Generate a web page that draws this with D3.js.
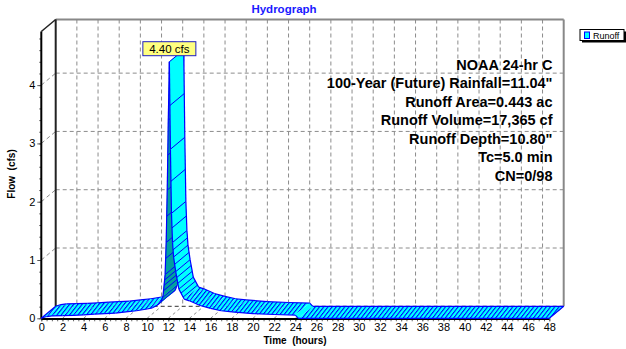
<!DOCTYPE html>
<html><head><meta charset="utf-8">
<script src="https://cdn.jsdelivr.net/npm/d3@7"></script>
<style>
html,body{margin:0;padding:0;background:#fff;}
svg{display:block;font-family:"Liberation Sans",Arial,sans-serif;}
</style></head>
<body><svg id="c" width="626" height="349"></svg>
<script>
// ---- data ----
const hours = [0, 0.5, 1, 2, 3, 4, 5, 6, 7, 8, 9, 10, 10.5, 11, 11.3, 11.5, 11.7, 11.8, 11.9, 12.0, 12.1, 12.2, 12.3, 12.4, 12.5, 12.7, 13.0, 13.5, 14, 15, 16, 17, 18, 20, 22, 24, 24.3, 48];
const flow  = [0, 0.03, 0.04, 0.045, 0.05, 0.06, 0.07, 0.08, 0.09, 0.11, 0.13, 0.16, 0.18, 0.23, 0.28, 0.38, 0.75, 1.3, 2.2, 3.4, 4.40, 2.9, 1.8, 1.3, 1.05, 0.8, 0.5, 0.33, 0.3, 0.22, 0.17, 0.13, 0.11, 0.08, 0.065, 0.055, 0.0, 0.0];
const yTicks = [0, 1, 2, 3, 4];
const xTicks = d3.range(0, 49, 2);
const peakLabel = "4.40 cfs";
const seriesName = "Runoff";
const infoLines = ["NOAA 24-hr C", "100-Year (Future) Rainfall=11.04\"", "Runoff Area=0.443 ac", "Runoff Volume=17,365 cf", "Runoff Depth=10.80\"", "Tc=5.0 min", "CN=0/98"];

// ---- layout ----
const svg = d3.select("#c");
const x = d3.scaleLinear().domain([0, 48]).range([41.3, 549.3]);
const y = d3.scaleLinear().domain([0, 4.92]).range([318.3, 31.5]);
const DX = 14.4, DY = -12;
const gridCol = "#8c8c8c";

// hatch pattern
const defs = svg.append("defs");
const pat = defs.append("pattern").attr("id", "hatch").attr("patternUnits", "userSpaceOnUse")
  .attr("width", 4.2).attr("height", 4.2).attr("patternTransform", "skewX(-38)");
pat.append("rect").attr("width", 4.2).attr("height", 4.2).attr("fill", "#00ffff");
pat.append("rect").attr("width", 1.3).attr("height", 4.2).attr("fill", "#0000ff");

const bx0 = x(0) + DX, bx1 = x(48) + DX, by0 = y(0) + DY, by1 = y(4.92) + DY;

// back plane grid
const g = svg.append("g");
g.selectAll(".hg").data(yTicks.filter(d => d > 0)).enter().append("line")
  .attr("x1", bx0).attr("x2", bx1).attr("y1", d => y(d) + DY).attr("y2", d => y(d) + DY)
  .attr("stroke", gridCol).attr("stroke-dasharray", "4,3");
g.selectAll(".vg").data(xTicks.filter(d => d > 0 && d < 48)).enter().append("line")
  .attr("x1", d => x(d) + DX).attr("x2", d => x(d) + DX).attr("y1", by1).attr("y2", by0)
  .attr("stroke", gridCol).attr("stroke-dasharray", "4,3");
// left wall diagonals
g.selectAll(".wl").data(yTicks.filter(d => d > 0)).enter().append("line")
  .attr("x1", x(0)).attr("x2", x(0) + DX).attr("y1", d => y(d)).attr("y2", d => y(d) + DY)
  .attr("stroke", gridCol).attr("stroke-dasharray", "4,3");
// floor diagonals
g.selectAll(".fl").data(xTicks.filter(d => d > 0)).enter().append("line")
  .attr("x1", d => x(d)).attr("x2", d => x(d) + DX).attr("y1", y(0)).attr("y2", y(0) + DY)
  .attr("stroke", gridCol).attr("stroke-dasharray", "3,3");
// back floor edge
g.append("line").attr("x1", bx0).attr("x2", bx1).attr("y1", by0).attr("y2", by0)
  .attr("stroke", "#333").attr("stroke-dasharray", "4,3");
// borders
g.append("line").attr("x1", bx0).attr("x2", bx1).attr("y1", by1).attr("y2", by1).attr("stroke", "#888").attr("stroke-width", 2);
g.append("line").attr("x1", bx1).attr("x2", bx1).attr("y1", by1).attr("y2", by0).attr("stroke", "#888").attr("stroke-width", 2);
g.append("line").attr("x1", bx0).attr("x2", bx0).attr("y1", by1).attr("y2", by0).attr("stroke", "#222").attr("stroke-width", 2);
g.append("line").attr("x1", x(0)).attr("x2", bx0).attr("y1", y(4.92)).attr("y2", by1).attr("stroke", "#222").attr("stroke-width", 1.5);

// y axis
const yMinor = svg.append("g").attr("transform", `translate(${x(0)},0)`)
  .call(d3.axisLeft(y).tickValues(d3.range(0, 4.81, 0.2)).tickSize(2).tickFormat(""));
const yAx = svg.append("g").attr("transform", `translate(${x(0)},0)`)
  .call(d3.axisLeft(y).tickValues(yTicks).tickSize(4).tickFormat(d3.format("d")));
[yMinor, yAx].forEach(a => { a.select(".domain").remove(); a.selectAll("line").attr("stroke", "#555"); });
yAx.selectAll("text").attr("font-size", 11).attr("fill", "#000").attr("x", -6);
svg.append("line").attr("x1", x(0)).attr("x2", x(0)).attr("y1", y(4.92)).attr("y2", y(0)).attr("stroke", "#000").attr("stroke-width", 2);

// x axis
const xMinor = svg.append("g").attr("transform", `translate(0,${y(0)})`)
  .call(d3.axisBottom(x).tickValues(d3.range(0, 48.01, 0.5)).tickSize(3).tickFormat(""));
const xAx = svg.append("g").attr("transform", `translate(0,${y(0)})`)
  .call(d3.axisBottom(x).tickValues(xTicks).tickSize(3).tickFormat(d3.format("d")));
[xMinor, xAx].forEach(a => { a.select(".domain").remove(); a.selectAll("line").attr("stroke", "#666"); });
xAx.selectAll("text").attr("font-size", 11).attr("fill", "#000").attr("y", 5);
svg.append("line").attr("x1", x(0)).attr("x2", x(48)).attr("y1", y(0) + 0.8).attr("y2", y(0) + 0.8).attr("stroke", "#000").attr("stroke-width", 2);

// ---- ribbon ----
const rib = svg.append("g");
const F = (t, v) => [x(t), y(v)];
const lerpV = (i, t) => flow[i] + (flow[i + 1] - flow[i]) * (t - hours[i]) / (hours[i + 1] - hours[i]);
let lastHatch = null;
for (let i = 0; i < hours.length - 1; i++) {
  const f0 = F(hours[i], flow[i]), f1 = F(hours[i + 1], flow[i + 1]);
  const b0 = [f0[0] + DX, f0[1] + DY], b1 = [f1[0] + DX, f1[1] + DY];
  const sdx = f1[0] - f0[0], sdy = f1[1] - f0[1];
  const cross = sdx * DY - sdy * DX;
  const under = cross > 0;
  const steep = Math.abs(sdy) > 0.8 * sdx;
  rib.append("path").attr("d", d3.line()([f0, f1, b1, b0]) + "Z")
    .attr("fill", under ? "#00a0a0" : (steep ? "#00ffff" : "url(#hatch)"))
    .attr("stroke", under ? "#00a0a0" : "none").attr("stroke-width", 0.5);
  if (steep) {
    for (let t = hours[i]; t < hours[i + 1] - 1e-9; t += 0.05) {
      const p = F(t, lerpV(i, t));
      if (lastHatch && Math.hypot(p[0] - lastHatch[0], p[1] - lastHatch[1]) < 4) continue;
      lastHatch = p;
      rib.append("line").attr("x1", p[0]).attr("y1", p[1]).attr("x2", p[0] + DX).attr("y2", p[1] + DY)
        .attr("stroke", "#0000ff").attr("stroke-width", 1);
    }
  } else {
    lastHatch = f1;
  }
  rib.append("path").attr("d", d3.line()([f0, f1])).attr("stroke", "#0000ff").attr("fill", "none").attr("stroke-width", 1.2);
  rib.append("path").attr("d", d3.line()([b0, b1])).attr("stroke", "#0000ff").attr("fill", "none").attr("stroke-width", 1.2);
}
{
  const fE = F(hours[hours.length - 1], flow[flow.length - 1]);
  rib.append("line").attr("x1", fE[0]).attr("y1", fE[1]).attr("x2", fE[0] + DX).attr("y2", fE[1] + DY).attr("stroke", "#0000ff").attr("stroke-width", 1.2);
  const fS = F(hours[0], flow[0]);
  rib.append("line").attr("x1", fS[0]).attr("y1", fS[1]).attr("x2", fS[0] + DX).attr("y2", fS[1] + DY).attr("stroke", "#0000ff").attr("stroke-width", 1.2);
}

// peak label
const pk = d3.maxIndex(flow);
const px = x(hours[pk]);
const lbl = svg.append("g");
lbl.append("rect").attr("x", px - 26.5).attr("y", 41.7).attr("width", 53).attr("height", 14)
  .attr("fill", "#ffff80").attr("stroke", "#2020c0").attr("stroke-width", 1);
lbl.append("text").attr("x", px).attr("y", 52.5).attr("text-anchor", "middle").attr("font-size", 11.5).text(peakLabel);

// info text
svg.append("g").selectAll("text").data(infoLines).enter().append("text")
  .attr("x", 552.5).attr("y", (d, i) => 69.5 + i * 18.5).attr("text-anchor", "end")
  .attr("font-size", 14.5).attr("font-weight", "bold").attr("fill", "#000").text(d => d);

// titles
svg.append("text").attr("x", 284).attr("y", 13).attr("text-anchor", "middle").attr("font-size", 11.5)
  .attr("font-weight", "bold").attr("fill", "#1a1aff").text("Hydrograph");
svg.append("text").attr("transform", "translate(15,174) rotate(-90)").attr("text-anchor", "middle")
  .attr("font-size", 10).attr("font-weight", "bold").style("white-space", "pre").text("Flow  (cfs)");
svg.append("text").attr("x", 295).attr("y", 344).attr("text-anchor", "middle")
  .attr("font-size", 10).attr("font-weight", "bold").style("white-space", "pre").text("Time  (hours)");

// legend
const lg = svg.append("g");
lg.append("rect").attr("x", 582).attr("y", 31.5).attr("width", 44).attr("height", 11).attr("fill", "#000");
lg.append("rect").attr("x", 580).attr("y", 29.5).attr("width", 44).attr("height", 11).attr("fill", "#fff").attr("stroke", "#000").attr("stroke-width", 1);
lg.append("rect").attr("x", 584.5).attr("y", 32).attr("width", 5).attr("height", 6.5).attr("fill", "#00ffff").attr("stroke", "#0000ff").attr("stroke-width", 1);
lg.append("text").attr("x", 593).attr("y", 38.5).attr("font-size", 9).attr("fill", "#000").text(seriesName);
</script></body></html>
